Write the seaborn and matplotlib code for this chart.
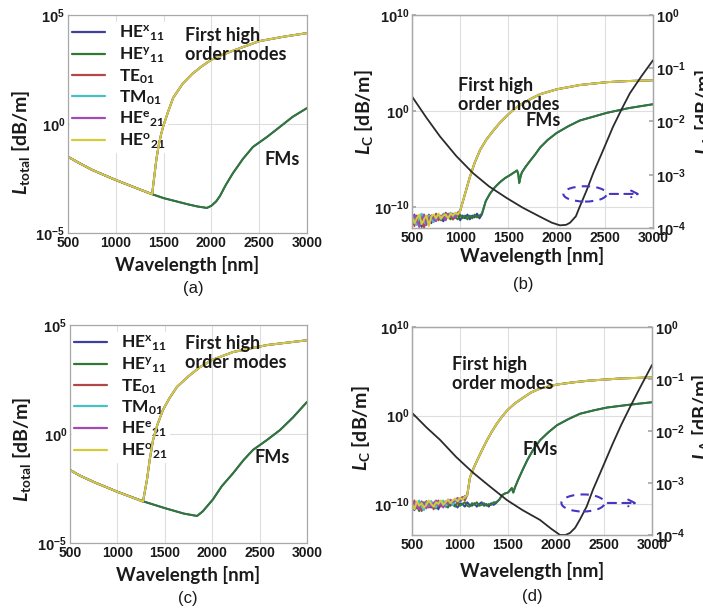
import numpy as np
import pandas as pd
import matplotlib
matplotlib.use("Agg")
import matplotlib.pyplot as plt
import seaborn as sns
from matplotlib.patches import Ellipse
from matplotlib.lines import Line2D
from matplotlib.ticker import NullLocator

sns.set_theme(style="white")
plt.rcParams["font.family"] = ["Lato", "DejaVu Sans"]
plt.rcParams["mathtext.fontset"] = "custom"
plt.rcParams["mathtext.rm"] = "Liberation Sans"
plt.rcParams["mathtext.it"] = "Liberation Sans:italic"
plt.rcParams["mathtext.bf"] = "Liberation Sans:bold"
plt.rcParams["mathtext.sf"] = "Lato:bold"
try:
    plt.rcParams["mathtext.bfit"] = "Lato:italic:bold"
except Exception:
    pass

# ---------------- data ----------------
modes = ["HEx11", "HEy11", "TE01", "TM01", "HEe21", "HEo21"]
mode_labels = [r"$\mathsf{HE^{x}{}_{11}}$", r"$\mathsf{HE^{y}{}_{11}}$", r"$\mathsf{TE_{01}}$",
               r"$\mathsf{TM_{01}}$", r"$\mathsf{HE^{e}{}_{21}}$", r"$\mathsf{HE^{o}{}_{21}}$"]
mode_colors = ["#3e3e9e", "#2f7a32", "#b0484a", "#45c2c8", "#a04cb0", "#d2cc3a"]
fm_modes = ["HEx11", "HEy11"]
hom_modes = ["TE01", "TM01", "HEe21", "HEo21"]

x_ticks = [500, 1000, 1500, 2000, 2500, 3000]

# panel (a): total loss, log10(dB/m)
a_fm_wl = [500, 600, 750, 1000, 1250, 1380, 1500, 1750, 1850, 1953, 2000, 2050, 2090, 2150, 2226,
           2330, 2435, 2580, 2717, 2850, 3000]
a_fm_log10 = [-1.5, -1.75, -2.1, -2.57, -3.0, -3.22, -3.4, -3.68, -3.78, -3.85, -3.75, -3.55, -3.3,
              -2.8, -2.25, -1.6, -1.05, -0.6, -0.13, 0.33, 0.73]
a_hom_wl = [500, 600, 750, 1000, 1250, 1380, 1400, 1425, 1450, 1475, 1500, 1550, 1600, 1700, 1800,
            1900, 2000, 2100, 2250, 2500, 2750, 3000]
a_hom_log10 = [-1.5, -1.75, -2.1, -2.57, -3.0, -3.22, -2.5, -1.6, -0.95, -0.45, -0.05, 0.6, 1.2,
               1.85, 2.3, 2.65, 2.95, 3.15, 3.4, 3.8, 4.0, 4.17]

# panel (c)
c_fm_wl = [500, 600, 750, 1000, 1280, 1500, 1700, 1840, 1900, 2008, 2100, 2220, 2330, 2430, 2570,
           2715, 2850, 3000]
c_fm_log10 = [-1.65, -1.9, -2.2, -2.65, -3.1, -3.4, -3.65, -3.76, -3.55, -3.0, -2.4, -1.8, -1.2,
              -0.73, -0.3, 0.18, 0.75, 1.47]
c_hom_wl = [500, 600, 750, 1000, 1270, 1312, 1340, 1375, 1420, 1480, 1550, 1628, 1750, 1871, 2000,
            2220, 2578, 3000]
c_hom_log10 = [-1.65, -1.9, -2.2, -2.65, -3.1, -2.1, -1.2, -0.3, 0.4, 1.1, 1.65, 2.16, 2.65, 3.07,
               3.4, 3.76, 4.08, 4.3]

# panel (b): confinement loss (left) and absorption loss (right)
b_hom_noise_wl = [500, 525, 550, 575, 600, 625, 650, 675, 700, 725, 750, 775, 800, 825, 850, 875,
                  900, 925, 950, 975, 1000]
b_noise_TE01 = [-11.2, -12.0, -10.9, -11.6, -11.0, -12.2, -11.3, -10.8, -11.5, -11.1, -10.7, -11.4,
                -10.9, -11.2, -10.6, -11.0, -10.8, -11.3, -10.7, -10.9, -10.4]
b_noise_TM01 = [-10.8, -11.5, -11.9, -11.1, -10.7, -11.6, -11.8, -10.9, -11.2, -11.6, -11.0, -10.8,
                -11.3, -10.7, -11.1, -10.9, -10.6, -11.0, -10.8, -10.6, -10.4]
b_noise_HEe21 = [-11.5, -10.9, -11.3, -12.1, -11.4, -10.8, -11.9, -11.2, -10.9, -11.3, -11.5, -10.9,
                 -11.1, -10.8, -11.4, -10.7, -11.0, -10.7, -11.1, -10.6, -10.4]
b_noise_HEo21 = [-11.0, -11.7, -11.2, -10.8, -11.8, -11.3, -10.9, -12.0, -11.0, -10.8, -11.2, -10.7,
                 -11.2, -10.9, -10.8, -11.2, -10.7, -10.9, -10.6, -10.8, -10.4]
b_hom_rise_wl = [1040, 1100, 1150, 1205, 1270, 1340, 1410, 1485, 1560, 1650, 1740, 1830, 2000, 2240,
                 2520, 2750, 3000]
b_hom_rise_log10 = [-9.0, -6.9, -5.4, -4.1, -3.0, -2.1, -1.25, -0.5, 0.2, 0.8, 1.3, 1.75, 2.25, 2.7,
                    3.0, 3.12, 3.2]
b_fm_noise_wl = [500, 525, 550, 575, 600, 625, 650, 675, 700, 725, 750, 775, 800, 825, 850, 875, 900,
                 925, 950, 975, 1000, 1025, 1050, 1075, 1100, 1125, 1150, 1175, 1200, 1225]
b_noise_HEx11 = [-11.3, -10.8, -11.6, -11.1, -12.1, -11.0, -11.4, -10.9, -11.7, -11.0, -11.3, -10.8,
                 -11.2, -11.5, -10.9, -11.1, -10.7, -11.3, -11.0, -10.8, -11.4, -10.9, -11.2, -10.8,
                 -11.3, -10.9, -11.1, -10.7, -11.2, -10.8]
b_noise_HEy11 = [-10.9, -11.5, -11.0, -12.0, -11.3, -10.8, -11.7, -11.2, -10.9, -11.5, -11.1, -10.9,
                 -11.4, -10.8, -11.2, -11.0, -11.3, -10.8, -11.1, -11.3, -10.8, -11.2, -10.9, -11.3,
                 -10.9, -11.2, -10.8, -11.1, -10.9, -10.7]
b_fm_rise_wl = [1265, 1310, 1360, 1415, 1465, 1515, 1560, 1590, 1603, 1612, 1625, 1640, 1680, 1725,
                1780, 1830, 1910, 2000, 2120, 2240, 2380, 2520, 2750, 3000]
b_fm_rise_log10 = [-9.4, -8.6, -7.95, -7.4, -7.0, -6.7, -6.4, -6.2, -6.6, -7.5, -6.9, -6.4, -5.8,
                   -5.2, -4.5, -3.8, -3.0, -2.3, -1.6, -1.0, -0.6, -0.2, 0.3, 0.7]
b_abs_wl = [500, 650, 790, 960, 1133, 1300, 1485, 1650, 1830, 1950, 2035, 2100, 2140, 2200, 2240,
            2310, 2380, 2480, 2585, 2680, 2760, 2880, 3000]
b_abs_log10 = [-1.53, -1.93, -2.28, -2.65, -2.97, -3.22, -3.44, -3.62, -3.79, -3.9, -3.95, -3.94,
               -3.9, -3.78, -3.6, -3.3, -2.97, -2.55, -2.1, -1.75, -1.47, -1.15, -0.85]

# panel (d)
d_hom_noise_wl = [500, 525, 550, 575, 600, 625, 650, 675, 700, 725, 750, 775, 800, 825, 850, 875,
                  900, 925, 950, 975, 1000, 1025, 1050, 1075]
d_noise_TE01 = [-10.2, -9.6, -10.5, -9.9, -10.8, -10.1, -9.7, -10.4, -9.9, -10.6, -10.0, -9.6, -10.3,
                -9.8, -10.1, -9.5, -10.0, -9.7, -9.4, -9.9, -9.5, -9.2, -9.6, -9.0]
d_noise_TM01 = [-9.9, -10.4, -10.0, -9.6, -10.3, -10.7, -9.8, -10.2, -9.7, -10.1, -10.4, -9.8, -10.0,
                -9.6, -10.2, -9.9, -9.6, -10.1, -9.7, -9.5, -9.8, -9.4, -9.3, -9.0]
d_noise_HEe21 = [-10.5, -9.8, -10.2, -10.6, -9.7, -10.0, -10.5, -9.8, -10.3, -9.9, -9.6, -10.2, -9.9,
                 -10.4, -9.7, -10.0, -9.5, -9.8, -9.6, -9.3, -9.7, -9.4, -9.1, -9.0]
d_noise_HEo21 = [-10.0, -10.6, -9.7, -10.2, -9.9, -10.4, -10.1, -9.6, -10.0, -10.3, -9.8, -10.0, -9.6,
                 -10.1, -9.8, -9.5, -9.9, -9.6, -9.4, -9.7, -9.3, -9.5, -9.2, -9.0]
d_hom_rise_wl = [1104, 1140, 1177, 1230, 1281, 1330, 1385, 1440, 1490, 1570, 1656, 1740, 1833, 2010,
                 2180, 2354, 2698, 3000]
d_hom_rise_log10 = [-7.0, -6.0, -5.1, -3.9, -2.8, -1.85, -0.9, -0.1, 0.56, 1.35, 2.0, 2.6, 3.05, 3.5,
                    3.75, 3.95, 4.2, 4.3]
d_fm_noise_wl = [500, 525, 550, 575, 600, 625, 650, 675, 700, 725, 750, 775, 800, 825, 850, 875, 900,
                 925, 950, 975, 1000, 1025, 1050, 1075, 1100, 1125, 1150, 1175, 1200, 1225, 1250,
                 1275, 1300, 1325, 1350, 1375]
d_noise_HEx11 = [-10.1, -10.7, -9.8, -10.3, -10.0, -10.5, -9.7, -10.2, -10.4, -9.9, -10.1, -10.6, -9.8,
                 -10.0, -10.3, -9.9, -10.2, -9.7, -10.1, -10.4, -9.9, -10.0, -10.3, -9.8, -10.1, -10.2,
                 -9.9, -10.3, -10.0, -9.8, -10.2, -10.0, -10.3, -9.9, -10.1, -9.9]
d_noise_HEy11 = [-10.4, -9.9, -10.2, -10.8, -10.0, -9.8, -10.3, -10.1, -9.7, -10.2, -10.5, -9.9, -10.1,
                 -9.8, -10.2, -10.4, -9.9, -10.1, -10.3, -9.8, -10.2, -10.0, -9.8, -10.2, -10.3, -9.9,
                 -10.1, -9.8, -10.2, -10.1, -9.9, -10.2, -10.0, -10.1, -9.8, -9.8]
d_fm_rise_wl = [1410, 1438, 1470, 1500, 1540, 1555, 1570, 1604, 1650, 1698, 1760, 1833, 1920, 2010,
                2130, 2250, 2400, 2531, 2750, 3000]
d_fm_rise_log10 = [-9.5, -9.0, -8.8, -8.7, -8.2, -8.7, -8.2, -7.3, -6.2, -5.1, -3.9, -2.8, -1.9, -1.1,
                   -0.4, 0.2, 0.6, 0.9, 1.2, 1.5]
d_abs_wl = [500, 650, 792, 960, 1135, 1300, 1490, 1650, 1833, 1950, 2042, 2100, 2146, 2200, 2250,
            2320, 2385, 2490, 2594, 2680, 2771, 2880, 3000]
d_abs_log10 = [-1.65, -1.93, -2.17, -2.5, -2.8, -3.05, -3.33, -3.52, -3.71, -3.88, -4.0, -4.0, -3.96,
               -3.86, -3.7, -3.45, -3.13, -2.68, -2.23, -1.88, -1.54, -1.15, -0.73]

# ---------------- helpers ----------------
def long_df(series):
    rows = []
    for mode, wl, lg in series:
        for w, v in zip(wl, lg):
            rows.append((mode, w, 10.0 ** v))
    return pd.DataFrame(rows, columns=["mode", "wl", "loss"])

palette = dict(zip(modes, mode_colors))
TXT = "#1a1a1a"
SPINE = "#a8a8a8"
GRID = "#dedede"
ARROW = "#4636c4"

def pow_label(e):
    return r"$\mathbf{10^{%d}}$" % e

def style_axes(ax, ylim, yexp):
    ax.set_yscale("log")
    ax.set_xlim(500, 3000)
    ax.set_ylim(*ylim)
    ax.set_xticks(x_ticks)
    ax.set_xticklabels([str(t) for t in x_ticks], fontsize=10, fontweight="bold",
                       family="Liberation Sans", color=TXT)
    ax.set_yticks([10.0 ** e for e in yexp])
    ax.set_yticklabels([pow_label(e) for e in yexp], fontsize=10.5, color=TXT)
    ax.yaxis.set_minor_locator(NullLocator())
    ax.grid(True, color=GRID, lw=0.8)
    for s in ax.spines.values():
        s.set_color(SPINE)
        s.set_linewidth(0.9)
    ax.tick_params(axis="both", which="major", direction="in", length=3, color=SPINE, pad=2)
    ax.set_xlabel("Wavelength [nm]", fontsize=13.5, fontweight="bold", color=TXT)

def right_axis(ax, ylim, yexp):
    ax2 = ax.twinx()
    ax2.set_yscale("log")
    ax2.set_ylim(*ylim)
    ax2.set_yticks([10.0 ** e for e in yexp])
    ax2.set_yticklabels([pow_label(e) for e in yexp], fontsize=10.5, color=TXT)
    ax2.yaxis.set_minor_locator(NullLocator())
    ax2.grid(False)
    for s in ax2.spines.values():
        s.set_color(SPINE)
        s.set_linewidth(0.9)
    ax2.tick_params(axis="y", direction="in", length=3, color=SPINE, pad=2)
    return ax2

def mode_legend(ax):
    handles = [Line2D([0], [0], color=c, lw=1.6) for c in mode_colors]
    leg = ax.legend(handles, mode_labels, loc="upper left", bbox_to_anchor=(0.01, 0.967),
                    fontsize=12.5, frameon=True, facecolor="white", edgecolor="white",
                    framealpha=1, fancybox=False, borderaxespad=0, borderpad=0.1,
                    handlelength=1.9, handletextpad=0.8, labelspacing=0.14)
    leg.set_zorder(1.8)
    for t in leg.get_texts():
        t.set_color(TXT)

def annot(ax, x_hom, y_hom, x_fm, y_fm):
    ax.text(x_hom, y_hom, "First high\norder modes", transform=ax.transAxes, ha="left", va="top",
            fontsize=13, fontweight="bold", color=TXT, linespacing=1.15, zorder=5)
    ax.text(x_fm, y_fm, "FMs", transform=ax.transAxes, ha="left", va="center",
            fontsize=13, fontweight="bold", color=TXT, zorder=5)

def dashed_marker(ax, cx, cy, w, h, x0, x1):
    ax.add_patch(Ellipse((cx, cy), w, h, transform=ax.transAxes, fill=False, ls=(0, (4, 3)),
                         ec=ARROW, lw=1.5, zorder=6))
    ax.annotate("", xy=(x1, cy), xytext=(x0, cy), xycoords="axes fraction",
                arrowprops=dict(arrowstyle="->", ls=(0, (4, 3)), color=ARROW, lw=1.5,
                                mutation_scale=12), zorder=6)

fig = plt.figure(figsize=(7.03, 6.14), dpi=100)
W, H = 703.0, 614.0
def add_ax(l, r, t, b):
    return fig.add_axes([l / W, 1 - b / H, (r - l) / W, (b - t) / H])

ax_a = add_ax(68, 307, 15, 233)
ax_b = add_ax(412, 653, 15, 228)
ax_c = add_ax(70, 307, 325, 543)
ax_d = add_ax(412, 652, 327, 535)

line_kw = dict(x="wl", y="loss", hue="mode", hue_order=modes, palette=palette,
               estimator=None, sort=False, legend=False, lw=1.4)

# ---- (a)
df_a = long_df([(m, a_fm_wl, a_fm_log10) for m in fm_modes] +
               [(m, a_hom_wl, a_hom_log10) for m in hom_modes])
sns.lineplot(data=df_a, ax=ax_a, **line_kw)
style_axes(ax_a, (1e-5, 1e5), [-5, 0, 5])
ax_a.set_ylabel(r"$\mathbfit{L}_{\mathsf{total}}$ [dB/m]", fontsize=14, fontweight="bold", color=TXT)
ax_a.yaxis.set_label_coords(-0.15, 0.417)
ax_a.xaxis.set_label_coords(0.5, -0.105)
mode_legend(ax_a)
annot(ax_a, 0.49, 0.945, 0.824, 0.335)

# ---- (c)
df_c = long_df([(m, c_fm_wl, c_fm_log10) for m in fm_modes] +
               [(m, c_hom_wl, c_hom_log10) for m in hom_modes])
sns.lineplot(data=df_c, ax=ax_c, **line_kw)
style_axes(ax_c, (1e-5, 1e5), [-5, 0, 5])
ax_c.set_ylabel(r"$\mathbfit{L}_{\mathsf{total}}$ [dB/m]", fontsize=14, fontweight="bold", color=TXT)
ax_c.yaxis.set_label_coords(-0.156, 0.427)
ax_c.xaxis.set_label_coords(0.5, -0.105)
mode_legend(ax_c)
annot(ax_c, 0.485, 0.955, 0.78, 0.394)

# ---- (b)
b_noise = {"HEx11": b_noise_HEx11, "HEy11": b_noise_HEy11, "TE01": b_noise_TE01,
           "TM01": b_noise_TM01, "HEe21": b_noise_HEe21, "HEo21": b_noise_HEo21}
df_b = long_df([(m, b_fm_noise_wl + b_fm_rise_wl, b_noise[m] + b_fm_rise_log10) for m in fm_modes] +
               [(m, b_hom_noise_wl + b_hom_rise_wl, b_noise[m] + b_hom_rise_log10) for m in hom_modes])
sns.lineplot(data=df_b, ax=ax_b, **line_kw)
style_axes(ax_b, (10 ** -12.2, 1e10), [-10, 0, 10])
ax_b.set_ylabel(r"$\mathbfit{L}_{\mathsf{C}}$ [dB/m]", fontsize=14, fontweight="bold", color=TXT)
ax_b.yaxis.set_label_coords(-0.153, 0.545)
ax_b.xaxis.set_label_coords(0.5, -0.09)
annot(ax_b, 0.19, 0.71, 0.469, 0.507)
ax_b2 = right_axis(ax_b, (1e-4, 1e0), [-4, -3, -2, -1, 0])
sns.lineplot(x=b_abs_wl, y=[10.0 ** v for v in b_abs_log10], ax=ax_b2, color="#2b2b2b", lw=1.3,
             estimator=None, sort=False)
ax_b2.set_ylabel(r"$\mathbfit{L}_{\mathsf{A}}$ [dB/m]", fontsize=14, fontweight="bold", color=TXT)
ax_b2.yaxis.set_label_coords(1.166, 0.545)
dashed_marker(ax_b2, 0.718, 0.16, 0.18, 0.072, 0.809, 0.958)

# ---- (d)
d_noise = {"HEx11": d_noise_HEx11, "HEy11": d_noise_HEy11, "TE01": d_noise_TE01,
           "TM01": d_noise_TM01, "HEe21": d_noise_HEe21, "HEo21": d_noise_HEo21}
df_d = long_df([(m, d_fm_noise_wl + d_fm_rise_wl, d_noise[m] + d_fm_rise_log10) for m in fm_modes] +
               [(m, d_hom_noise_wl + d_hom_rise_wl, d_noise[m] + d_hom_rise_log10) for m in hom_modes])
sns.lineplot(data=df_d, ax=ax_d, **line_kw)
style_axes(ax_d, (10 ** -13.5, 1e10), [-10, 0, 10])
ax_d.set_ylabel(r"$\mathbfit{L}_{\mathsf{C}}$ [dB/m]", fontsize=14, fontweight="bold", color=TXT)
ax_d.yaxis.set_label_coords(-0.167, 0.514)
ax_d.xaxis.set_label_coords(0.5, -0.13)
annot(ax_d, 0.167, 0.86, 0.4625, 0.409)
ax_d2 = right_axis(ax_d, (1e-4, 1e0), [-4, -3, -2, -1, 0])
sns.lineplot(x=d_abs_wl, y=[10.0 ** v for v in d_abs_log10], ax=ax_d2, color="#2b2b2b", lw=1.3,
             estimator=None, sort=False)
ax_d2.set_ylabel(r"$\mathbfit{L}_{\mathsf{A}}$ [dB/m]", fontsize=14, fontweight="bold", color=TXT)
ax_d2.yaxis.set_label_coords(1.158, 0.567)
dashed_marker(ax_d2, 0.7125, 0.154, 0.18, 0.082, 0.804, 0.95)

# sub-captions
for txt, x, y in [("(a)", 193, 288), ("(b)", 523, 285), ("(c)", 188, 598), ("(d)", 532, 597)]:
    fig.text(x / W, 1 - y / H, txt, ha="center", va="center", fontsize=12,
             family="Liberation Sans", color=TXT)

fig.savefig("out.png", dpi=100, facecolor="white")
